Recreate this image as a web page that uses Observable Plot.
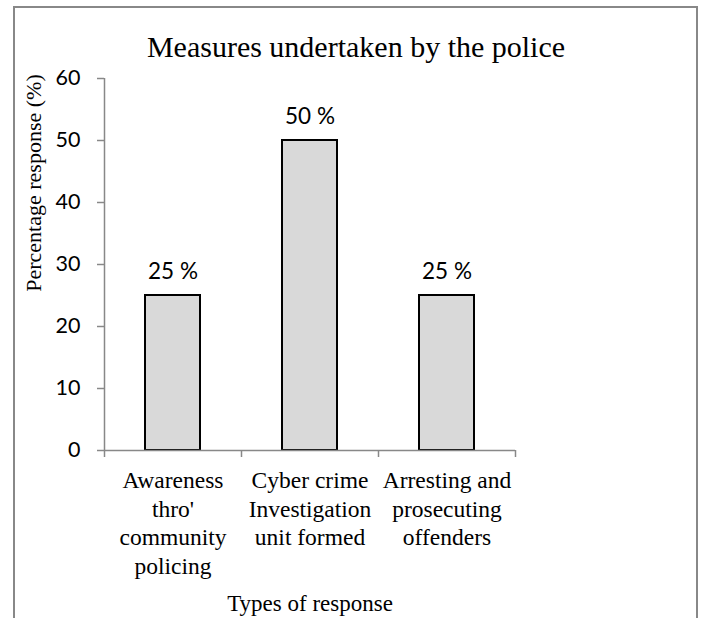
<!DOCTYPE html>
<html>
<head>
<meta charset="utf-8">
<script src="https://cdn.jsdelivr.net/npm/d3@7"></script>
<script src="https://cdn.jsdelivr.net/npm/@observablehq/plot@0.6"></script>
<style>
  body { margin: 0; background: #fff; }
  #wrap { position: relative; width: 701px; height: 618px; overflow: hidden; }
  #border { position: absolute; left: 13px; top: 6px; width: 681px; height: 700px;
            border: 2px solid #888; border-bottom: none; pointer-events: none; }
</style>
</head>
<body>
<div id="wrap"><div id="chart"></div><div id="border"></div></div>
<script>
// Survey: measures undertaken by the police
const categories = [
  "Awareness\nthro'\ncommunity\npolicing",
  "Cyber crime\nInvestigation\nunit formed",
  "Arresting and\nprosecuting\noffenders"
];
const values = [25, 50, 25];
const valueLabels = ["25 %", "50 %", "25 %"];
const yTicks = [0, 10, 20, 30, 40, 50, 60];
const titleText = "Measures undertaken by the police";
const xTitle = "Types of response";
const yTitle = "Percentage response (%)";

const data = categories.map((c, i) => ({category: c, value: values[i], label: valueLabels[i]}));

const W = 701, H = 618;
const mLeft = 104, mRight = 186, mTop = 78, mBottom = 168;
const step = (W - mLeft - mRight) / categories.length;
const serif = "'Liberation Serif', 'Times New Roman', serif";
const sans = "Lato, 'Open Sans', sans-serif";
const axisGray = "#888";

const chart = Plot.plot({
  width: W,
  height: H,
  marginLeft: mLeft,
  marginRight: mRight,
  marginTop: mTop,
  marginBottom: mBottom,
  style: {fontFamily: sans, background: "#fff", color: "#000", overflow: "visible"},
  x: {type: "band", domain: categories, paddingInner: 0.6, paddingOuter: 0.3, axis: null},
  y: {domain: [0, 60], axis: null},
  marks: [
    Plot.barY(data, {x: "category", y: "value", fill: "#d9d9d9", stroke: "#000", strokeWidth: 2}),
    // y axis line
    Plot.ruleX([categories[0]], {x: d => d, dx: -step / 2, y1: 0, y2: 60, stroke: axisGray, strokeWidth: 1.5}),
    // x axis line
    Plot.ruleY([0], {stroke: axisGray, strokeWidth: 1.5}),
    // category boundary ticks below the x axis
    Plot.ruleX(categories, {x: d => d, dx: -step / 2, y1: 0, y2: 0, insetBottom: -7, stroke: axisGray, strokeWidth: 1.5}),
    Plot.ruleX([categories[categories.length - 1]], {x: d => d, dx: step / 2, y1: 0, y2: 0, insetBottom: -7, stroke: axisGray, strokeWidth: 1.5}),
    Plot.axisY(yTicks, {tickSize: 7, tickPadding: 17, stroke: axisGray, strokeWidth: 1.5, fontSize: 21.5, fontFamily: sans, fill: "#000", label: null}),
    Plot.axisX({tickSize: 0, tickPadding: 17.5, fontSize: 23.5, fontFamily: serif, lineHeight: 1.213, fill: "#000", label: null}),
    // value labels
    Plot.text(data, {x: "category", y: "value", text: "label", dy: -24, fontSize: 22.5, fontFamily: sans, fill: "#000"}),
    // titles
    Plot.text([titleText], {frameAnchor: "top", textAnchor: "middle", lineAnchor: "middle", dx: 46, dy: -31, fontSize: 30, fontFamily: serif, fill: "#000"}),
    Plot.text([xTitle], {frameAnchor: "bottom", textAnchor: "middle", lineAnchor: "middle", dy: 153, fontSize: 23, fontFamily: serif, fill: "#000"}),
    Plot.text([yTitle], {frameAnchor: "left", textAnchor: "middle", lineAnchor: "middle", dx: -71, dy: -81.5, rotate: -90, fontSize: 22, fontFamily: serif, fill: "#000"})
  ]
});
document.getElementById("chart").appendChild(chart);
</script>
</body>
</html>
